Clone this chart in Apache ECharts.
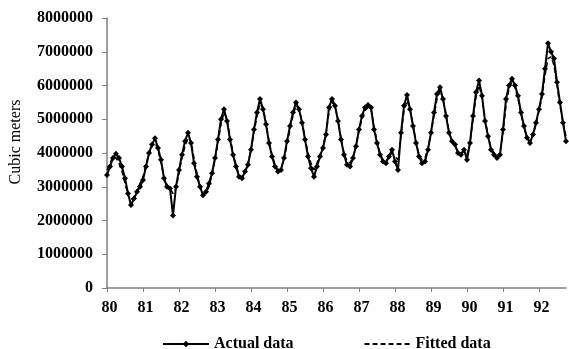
<!DOCTYPE html>
<html>
<head>
<meta charset="utf-8">
<script src="https://cdn.jsdelivr.net/npm/echarts@6/dist/echarts.min.js"></script>
<style>
html,body{margin:0;padding:0;background:#fff;}
#chart{width:569px;height:349px;}
</style>
</head>
<body>
<div id="chart"></div>
<script>
// year tick labels (one category per month, January carries the label)
var years = ['80','81','82','83','84','85','86','87','88','89','90','91','92'];

// monthly values, millions of cubic meters
var actual = [
  3.35, 3.6, 3.85, 3.98, 3.85, 3.6, 3.25, 2.8, 2.46, 2.65, 2.85, 3.0,
  3.2, 3.6, 4.0, 4.25, 4.44, 4.15, 3.8, 3.25, 3.0, 2.95, 2.15, 3.0,
  3.5, 3.95, 4.35, 4.6, 4.3, 3.7, 3.3, 3.0, 2.75, 2.85, 3.1, 3.4,
  3.85, 4.4, 5.0, 5.3, 4.95, 4.4, 3.95, 3.6, 3.3, 3.25, 3.45, 3.65,
  4.1, 4.7, 5.2, 5.6, 5.3, 4.85, 4.3, 3.9, 3.6, 3.45, 3.5, 3.85,
  4.35, 4.8, 5.2, 5.5, 5.3, 4.9, 4.4, 3.9, 3.55, 3.3, 3.6, 3.9,
  4.15, 4.55, 5.35, 5.6, 5.4, 4.95, 4.4, 3.95, 3.65, 3.6, 3.85, 4.2,
  4.7, 5.1, 5.35, 5.42, 5.35, 4.7, 4.3, 3.95, 3.75, 3.7, 3.9, 4.1,
  3.75, 3.5, 4.6, 5.4, 5.72, 5.3, 4.8, 4.3, 3.9, 3.7, 3.75, 4.1,
  4.6, 5.2, 5.75, 5.95, 5.6, 5.1, 4.6, 4.35, 4.25, 4.0, 3.95, 4.1,
  3.8, 4.3, 5.1, 5.8, 6.15, 5.7, 4.95, 4.5, 4.1, 3.95, 3.85, 3.95,
  4.7, 5.6, 6.0, 6.2, 6.0, 5.7, 5.2, 4.8, 4.45, 4.3, 4.55, 4.9,
  5.3, 5.75, 6.5, 7.25, 7.0, 6.8, 6.1, 5.5, 4.9, 4.35
];

var fitted = [
  3.5, 3.7, 3.9, 3.85, 3.7, 3.45, 3.1, 2.75, 2.6, 2.7, 2.9, 3.1,
  3.3, 3.65, 3.95, 4.2, 4.3, 4.1, 3.7, 3.3, 3.05, 2.95, 2.8, 2.95,
  3.4, 3.85, 4.2, 4.45, 4.35, 3.85, 3.4, 3.0, 2.8, 2.8, 3.0, 3.35,
  3.8, 4.3, 4.85, 5.2, 5.0, 4.5, 4.0, 3.65, 3.35, 3.3, 3.4, 3.7,
  4.1, 4.6, 5.1, 5.45, 5.35, 4.9, 4.35, 3.95, 3.65, 3.5, 3.55, 3.8,
  4.25, 4.7, 5.1, 5.4, 5.3, 4.95, 4.45, 4.0, 3.7, 3.5, 3.7, 3.95,
  4.2, 4.6, 5.2, 5.5, 5.4, 5.0, 4.45, 4.0, 3.75, 3.7, 3.9, 4.2,
  4.65, 5.0, 5.25, 5.35, 5.3, 4.8, 4.35, 4.0, 3.8, 3.75, 3.9, 4.0,
  3.9, 3.8, 4.5, 5.25, 5.55, 5.3, 4.85, 4.35, 3.95, 3.8, 3.85, 4.15,
  4.6, 5.1, 5.6, 5.85, 5.6, 5.15, 4.65, 4.35, 4.2, 4.05, 4.0, 4.05,
  3.95, 4.3, 5.0, 5.65, 6.0, 5.65, 5.0, 4.55, 4.15, 4.0, 3.9, 4.0,
  4.6, 5.4, 5.9, 6.1, 5.95, 5.6, 5.15, 4.75, 4.45, 4.35, 4.5, 4.85,
  5.25, 5.65, 6.3, 6.8, 6.85, 6.6, 6.0, 5.4, 4.9, 4.5
];

var months = [];
for (var i = 0; i < actual.length; i++) {
  months.push(years[Math.floor(i / 12)] + '-' + (i % 12 + 1));
}
function toM3(arr) { return arr.map(function (v) { return Math.round(v * 1000000); }); }

var font = 'Liberation Serif';
var myChart = echarts.init(document.getElementById('chart'));
var option = {
  backgroundColor: '#FFFFFF',
  animation: false,
  grid: { left: 107, right: 3, top: 18, bottom: 61 },
  legend: {
    top: 331,
    left: 157,
    itemWidth: 46,
    itemHeight: 8,
    itemGap: 70,
    textStyle: { fontFamily: font, fontWeight: 'bold', fontSize: 16, color: '#000' },
    data: [
      'Actual data',
      { name: 'Fitted data', itemStyle: { opacity: 0 } }
    ]
  },
  xAxis: {
    type: 'category',
    boundaryGap: false,
    data: months,
    axisLine: { lineStyle: { color: '#808080', width: 1.5 } },
    axisTick: { interval: 11, length: 4, lineStyle: { color: '#808080' } },
    axisLabel: {
      interval: 11,
      margin: 12,
      padding: [0, 0, 0, 5],
      fontFamily: font, fontWeight: 'bold', fontSize: 16, color: '#000',
      formatter: function (v) { return v.split('-')[0]; }
    }
  },
  yAxis: {
    type: 'value',
    min: 0,
    max: 8000000,
    interval: 1000000,
    name: 'Cubic meters',
    nameLocation: 'middle',
    nameGap: 83,
    nameTextStyle: { fontFamily: font, fontSize: 16, color: '#000', padding: [0, 0, 0, 22] },
    axisLine: { show: true, lineStyle: { color: '#808080', width: 1.5 } },
    axisTick: { show: true, length: 5, lineStyle: { color: '#808080' } },
    splitLine: { show: false },
    axisLabel: {
      margin: 14,
      fontFamily: font, fontWeight: 'bold', fontSize: 16, color: '#000',
      formatter: function (v) { return String(v); }
    }
  },
  series: [
    {
      name: 'Fitted data',
      type: 'line',
      data: toM3(fitted),
      symbol: 'none',
      lineStyle: { color: '#000', width: 1.5, type: [5, 3] },
      itemStyle: { color: '#000' }
    },
    {
      name: 'Actual data',
      type: 'line',
      data: toM3(actual),
      symbol: 'diamond',
      symbolSize: 6,
      showAllSymbol: true,
      lineStyle: { color: '#000', width: 2 },
      itemStyle: { color: '#000' }
    }
  ]
};
myChart.setOption(option);
</script>
</body>
</html>
